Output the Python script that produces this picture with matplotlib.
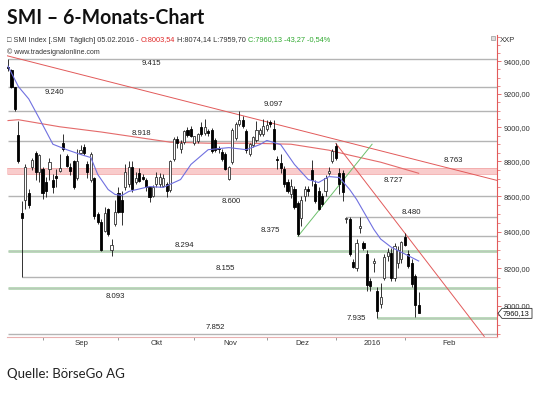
import numpy as np
import matplotlib.pyplot as plt
from matplotlib.patches import Polygon, Rectangle
from matplotlib.ticker import FixedLocator, NullFormatter
from matplotlib.transforms import IdentityTransform

# Tageskerzen SMI, 18.08.2015 - 05.02.2016 (Index = Handelstag)
opens = [9365, 9345, 9240, 8955, 8505, 8580, 8620, 8765, 8850, 8740,
         8753, 8680, 8757, 8695, 8718, 8745, 8905, 8830, 8770, 8800,
         8705, 8850, 8885, 8782, 8695, 8705, 8498, 8453, 8403, 8530,
         8300, 8442, 8620, 8580, 8650, 8670, 8770, 8680, 8735, 8712,
         8695, 8650, 8600, 8667, 8672, 8660, 8667, 8638, 8815, 8930,
         8870, 8915, 8985, 8990, 8905, 8920, 9000, 8965, 8975, 8985,
         8925, 8875, 8855, 8845, 8700, 8795, 8935, 9020, 9045, 8975,
         8845, 8895, 8925, 8960, 8960, 8990, 9030, 8990, 8815, 8790,
         8757, 8680, 8610, 8640, 8560, 8475, 8600, 8640, 8752, 8670,
         8630, 8600, 8630, 8735, 8800, 8890, 8735, 8730, 8470, 8474,
         8235, 8200, 8420, 8336, 8280, 8130, 8230, 8080, 8010, 8150,
         8265, 8285, 8150, 8230, 8250, 8370, 8280, 8230, 8160, 8003.54]
highs = [9415, 9355, 9245, 9040, 8575, 8785, 8640, 8820, 8858, 8845,
         8765, 8712, 8820, 8724, 8753, 8840, 8962, 8840, 8790, 8810,
         8870, 8895, 8900, 8800, 8855, 8712, 8510, 8470, 8540, 8535,
         8360, 8580, 8650, 8630, 8782, 8800, 8800, 8740, 8764, 8725,
         8705, 8655, 8665, 8740, 8735, 8724, 8680, 8810, 8945, 8950,
         8925, 8985, 9000, 9010, 8950, 8965, 9030, 9047, 8990, 8995,
         8935, 8890, 8870, 8855, 8775, 8995, 9030, 9097, 9070, 8990,
         8910, 8950, 9035, 8995, 9050, 9045, 9045, 9045, 8830, 8840,
         8775, 8700, 8700, 8660, 8575, 8600, 8660, 8660, 8805, 8690,
         8650, 8620, 8720, 8770, 8870, 8905, 8760, 8750, 8480, 8485,
         8250, 8360, 8480, 8350, 8300, 8150, 8258, 8100, 8120, 8280,
         8310, 8310, 8340, 8320, 8350, 8395, 8300, 8250, 8170, 8074.14]
lows = [9340, 9235, 9100, 8790, 8155, 8530, 8535, 8750, 8695, 8680,
        8582, 8593, 8695, 8620, 8655, 8740, 8860, 8765, 8720, 8640,
        8695, 8840, 8835, 8705, 8680, 8470, 8442, 8294, 8398, 8375,
        8265, 8430, 8505, 8440, 8638, 8650, 8625, 8670, 8680, 8690,
        8627, 8565, 8593, 8655, 8655, 8650, 8593, 8625, 8800, 8880,
        8850, 8900, 8940, 8945, 8895, 8905, 8950, 8955, 8950, 8850,
        8855, 8850, 8800, 8750, 8690, 8785, 8925, 9010, 8995, 8850,
        8830, 8885, 8915, 8950, 8950, 8975, 9000, 8865, 8757, 8730,
        8650, 8620, 8590, 8530, 8375, 8430, 8570, 8600, 8660, 8560,
        8520, 8545, 8600, 8720, 8790, 8805, 8610, 8570, 8450, 8265,
        8200, 8185, 8395, 8300, 8080, 8080, 8180, 7935, 7990, 8140,
        8240, 8130, 8130, 8200, 8230, 8320, 8200, 8100, 7940, 7959.70]
closes = [9360, 9245, 9110, 8800, 8475, 8770, 8550, 8810, 8740, 8835,
          8620, 8627, 8797, 8655, 8705, 8760, 8870, 8775, 8745, 8650,
          8800, 8865, 8850, 8741, 8840, 8486, 8453, 8300, 8503, 8386,
          8330, 8510, 8510, 8510, 8741, 8770, 8640, 8705, 8685, 8700,
          8650, 8593, 8655, 8712, 8712, 8705, 8627, 8800, 8930, 8910,
          8910, 8975, 8955, 8950, 8950, 8960, 8960, 9000, 8965, 8860,
          8865, 8870, 8815, 8757, 8770, 8985, 9017, 9045, 9005, 8865,
          8900, 8945, 8985, 8985, 9005, 9015, 9020, 8870, 8805, 8760,
          8670, 8630, 8660, 8540, 8390, 8580, 8640, 8630, 8690, 8570,
          8530, 8555, 8705, 8745, 8860, 8820, 8670, 8625, 8475, 8280,
          8210, 8340, 8430, 8310, 8110, 8105, 8240, 7975, 8045, 8260,
          8290, 8150, 8320, 8300, 8345, 8330, 8215, 8115, 8003.40, 7960.13]

# Monatsanfänge (Kerzenindex) und Monatsbeschriftung
month_starts = [10, 32, 54, 75, 95, 115]
month_names = ["Sep", "Okt", "Nov", "Dez", "2016", "Feb"]
month_label_pos = [21.2, 43.2, 64.4, 85.2, 105.5, 127.8]

# horizontale Marken (Niveau, ab Kerze)
gray_levels = [9415, 9240, 9097, 8918, 8600, 8480, 8375, 8155, 7852]
gray_start = [0, 0, 0, 0, 0, 98, 84, 4, 0]
green_levels = [8294, 8093, 7935]
green_start = [0, 0, 107]
band_low, band_high = 8727, 8763

# Beschriftung der Marken: Wert, Kerze, Versatz in px (+ = oberhalb)
label_vals = [9415, 9240, 9097, 8918, 8763, 8727, 8600, 8480, 8375, 8294, 8155, 8093, 7935, 7852]
label_bars = [41.6, 13.3, 76.9, 38.8, 129.1, 111.6, 64.8, 117.0, 75.9, 51.1, 63.1, 31.2, 100.9, 60.0]
label_dy = [-5, -5, 7, 8, 7, -7, -5, 4.5, 5.5, 6, 8, -8, 0, 7]

# gleitende Durchschnitte
blue_bars = [0, 3, 6, 9, 13, 17, 21, 24, 26, 29, 31, 33, 35, 41, 45, 50, 53, 58, 64, 69,
             73, 75, 79, 83, 87, 90, 93, 96, 99, 101, 106, 108, 111, 115, 119]
blue_vals = [9370, 9245, 9170, 9055, 8900, 8868, 8840, 8822, 8724, 8638, 8610, 8604, 8627,
             8655, 8650, 8695, 8782, 8868, 8880, 8868, 8898, 8922, 8898, 8782, 8695, 8678,
             8712, 8707, 8638, 8582, 8414, 8360, 8316, 8278, 8240]
red_bars = [0, 3, 15, 27, 35, 47, 58, 70, 82, 93, 99, 108, 119]
red_vals = [9040, 9045, 9003, 8972, 8948, 8912, 8906, 8906, 8900, 8865, 8836, 8795, 8731]

# Trendlinien (Kerze, Kurs) -> (Kerze, Kurs)
trend_long = [(-0.3, 9435), (141.7, 8690)]
trend_steep = [(95, 8905), (138, 7840)]
trend_up = [(84, 8375), (105.5, 8900)]

W, H = 540, 393
fig = plt.figure(figsize=(W / 100, H / 100), dpi=100)
ax = fig.add_axes([7 / W, 1 - 337 / H, 490 / W, 302 / H])
ax.set_yscale('log')
x_left, x_right = -0.3, 141.7
ax.set_xlim(x_left, x_right)
ax.set_ylim(7837, 9565)

gray = '#b4b4b4'
green = '#a6cfa6'
red = '#e25a5a'

for lv, st in zip(gray_levels, gray_start):
    ax.hlines(lv, max(st, x_left), x_right, color=gray, lw=1.0, zorder=1)
for lv, st in zip(green_levels, green_start):
    ax.hlines(lv, max(st, x_left), x_right, color=green, lw=1.8, zorder=1)
    ax.hlines(lv, max(st, x_left), x_right, color='#c9c9c9', lw=0.4, zorder=1)
ax.axhspan(band_low, band_high, facecolor='#f9cccc', edgecolor='none', zorder=0.5)
ax.hlines([band_low, band_high], x_left, x_right, color='#f2a9a9', lw=0.6, zorder=0.6)

ax.plot(red_bars, red_vals, color='#e46a6a', lw=0.8, zorder=2)
ax.plot(blue_bars, blue_vals, color='#7070e0', lw=0.8, zorder=6)
for seg, col in [(trend_long, red), (trend_steep, red), (trend_up, '#6cc06c')]:
    ax.plot([seg[0][0], seg[1][0]], [seg[0][1], seg[1][1]], color=col, lw=0.7, zorder=2)

# Kerzen
xs = np.arange(len(closes))
o, hi, lo, c = map(np.array, (opens, highs, lows, closes))
up = c >= o
ax.vlines(xs, lo, hi, color='#111111', lw=0.6, zorder=4)
ax.bar(xs[up], np.maximum(c[up] - o[up], 1), bottom=o[up], width=0.62,
       color='white', edgecolor='#333333', lw=0.6, zorder=5)
ax.bar(xs[~up], np.maximum(o[~up] - c[~up], 1), bottom=c[~up], width=0.62,
       color='black', edgecolor='black', lw=0.6, zorder=5)

lab_font = ['Liberation Sans', 'DejaVu Sans']
for v, b, dy in zip(label_vals, label_bars, label_dy):
    ax.annotate(f"{v:,}".replace(",", "."), (b, v), xytext=(0, dy * 0.72),
                textcoords='offset points', ha='center', va='center',
                fontsize=5.6, color='#222222', family=lab_font, zorder=7)

# Achsen
for s in ('left', 'top'):
    ax.spines[s].set_visible(False)
ax.spines['right'].set_color(red)
ax.spines['right'].set_linewidth(0.8)
ax.spines['bottom'].set_color('#e8b0b0')
ax.spines['bottom'].set_linewidth(0.8)

ax.yaxis.tick_right()
yt = list(range(8000, 9401, 200))
ax.yaxis.set_major_locator(FixedLocator(yt))
ax.set_yticklabels([f"{v},00" for v in yt], family=lab_font)
ax.yaxis.set_minor_locator(FixedLocator(range(7850, 9551, 50)))
ax.yaxis.set_minor_formatter(NullFormatter())
ax.tick_params(axis='y', which='major', colors=red, labelcolor='#333333',
               length=3, width=0.6, labelsize=5.3, pad=1.5)
ax.tick_params(axis='y', which='minor', colors=red, length=1.8, width=0.5)

ax.set_xticks(month_starts)
ax.set_xticklabels([])
ax.set_xticks(month_label_pos, month_names, minor=True, family=lab_font)
ax.tick_params(axis='x', which='major', length=2.5, width=0.6, color='#888888')
ax.tick_params(axis='x', which='minor', length=0, labelsize=5.6, pad=2.5, labelcolor='#333333')

# Kursmarke rechts
fig.canvas.draw()
r = fig.canvas.get_renderer()
ypx = ax.transData.transform((0, closes[-1]))[1]
x0 = ax.transAxes.transform((1, 0))[0]
marker = Polygon([(x0 + 1, ypx), (x0 + 5, ypx + 5), (x0 + 35, ypx + 5),
                  (x0 + 35, ypx - 5), (x0 + 5, ypx - 5)], closed=True,
                 facecolor='white', edgecolor='#333333', lw=0.6,
                 transform=IdentityTransform())
fig.add_artist(marker)
fig.text((x0 + 6) / W, ypx / H, f"{closes[-1]:.2f}".replace('.', ','), fontsize=5.3,
         va='center', ha='left', color='#111111', family=lab_font)


def de(v):
    return f"{v:.2f}".replace('.', ',')


def fit(t, width_px):
    w = t.get_window_extent(r).width
    t.set_fontsize(t.get_fontsize() * width_px / w)


# Titel und Quelle
title = fig.text(7 / W, 1 - 18 / H, "SMI – 6-Monats-Chart", fontsize=14,
                 fontweight='bold', family=['Lato', 'DejaVu Sans'], va='center', color='#111111')
fit(title, 198)
src = fig.text(7 / W, 1 - 374 / H, "Quelle: BörseGo AG", fontsize=11,
               family=['Lato', 'DejaVu Sans'], va='center', color='#222222')
fit(src, 118)

# Kopfzeile
chg = closes[-1] - closes[-2]
pct = chg / closes[-2] * 100
parts = [("\u25a1 SMI Index [.SMI  Täglich] 05.02.2016 - ", '#333333'),
         (f"O:{de(opens[-1])}", '#e02828'),
         (f" H:{de(highs[-1])} L:{de(lows[-1])} ", '#333333'),
         (f"C:{de(closes[-1])} {de(chg)} {de(pct)}%", '#2ea82e')]
size = 4.8
texts = []
xpos = 7
for s, col in parts:
    t = fig.text(xpos / W, 1 - 40 / H, s, fontsize=size, color=col, va='center',
                 family=lab_font)
    xpos += t.get_window_extent(r).width
    texts.append(t)
scale = 323 / (xpos - 7)
xpos = 7
for t in texts:
    t.set_fontsize(size * scale)
    t.set_x(xpos / W)
    xpos += t.get_window_extent(r).width

cp = fig.text(7 / W, 1 - 52 / H, "© www.tradesignalonline.com", fontsize=5,
              color='#333333', va='center', family=lab_font)
fit(cp, 93)

fig.text(500 / W, 1 - 40 / H, "XXP", fontsize=5.5, color='#333333', va='center',
         family=lab_font)
fig.add_artist(Rectangle((491 / W, 1 - 40 / H), 4 / W, 4 / H, transform=fig.transFigure,
                         facecolor='#dddddd', edgecolor='#999999', lw=0.5))

fig.savefig('out.png', dpi=100)
